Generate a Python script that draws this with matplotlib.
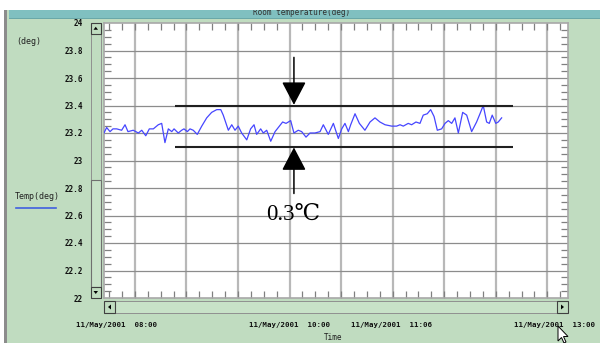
import numpy as np
import matplotlib
matplotlib.use("Agg")
import matplotlib.pyplot as plt
import matplotlib.transforms as mtransforms
from matplotlib.patches import Rectangle, Polygon
from matplotlib.ticker import FixedLocator

# Room temperature log, minutes after 08:00 on 11/May/2001
minutes = [0, 1.7, 3.9, 5.8, 8.2, 11.4, 13.6, 15.5, 18.9, 22.2, 24.4, 27.0, 29.3, 31.9,
           35.1, 37.3, 39.4, 41.6, 43.8, 45.3, 48.0, 50.2, 51.7, 53.9, 55.6, 57.7, 60.3,
           63.2, 66.4, 69.6, 72.9, 75.5, 77.1, 80.4, 82.6, 84.7, 86.8, 89.0, 92.3, 94.8,
           97.0, 98.7, 101.3, 103.0, 105.2, 107.8, 110.6, 112.7, 115.5, 117.7, 120.7,
           122.8, 125.6, 127.8, 130.6, 133.2, 136.4, 139.7, 141.8, 145.0, 148.3, 151.5,
           153.7, 155.8, 158.0, 159.5, 162.3, 165.1, 168.7, 172.0, 175.2, 178.4, 181.7,
           186.0, 189.2, 191.4, 193.5, 196.7, 198.9, 201.7, 204.3, 206.4, 209.0, 211.2,
           213.4, 215.5, 218.3, 220.5, 222.6, 224.8, 226.9, 229.1, 231.9, 234.5, 237.7,
           240.9, 243.1, 245.2, 247.4, 249.1, 251.0, 253.3, 254.9, 257.1]
temp = [23.20, 23.24, 23.21, 23.23, 23.23, 23.22, 23.26, 23.21, 23.22, 23.20, 23.22, 23.18,
        23.23, 23.23, 23.26, 23.27, 23.13, 23.23, 23.21, 23.23, 23.20, 23.22, 23.23, 23.21,
        23.23, 23.22, 23.19, 23.25, 23.31, 23.35, 23.37, 23.37, 23.33, 23.22, 23.26, 23.22,
        23.25, 23.20, 23.15, 23.23, 23.26, 23.19, 23.23, 23.20, 23.22, 23.14, 23.21, 23.24,
        23.28, 23.27, 23.29, 23.20, 23.22, 23.21, 23.17, 23.20, 23.20, 23.21, 23.26, 23.19,
        23.27, 23.16, 23.23, 23.27, 23.21, 23.26, 23.34, 23.27, 23.22, 23.28, 23.31, 23.28,
        23.26, 23.25, 23.25, 23.26, 23.25, 23.27, 23.26, 23.28, 23.27, 23.33, 23.34, 23.37,
        23.32, 23.22, 23.23, 23.27, 23.29, 23.27, 23.31, 23.20, 23.35, 23.33, 23.21, 23.28,
        23.34, 23.40, 23.28, 23.27, 23.33, 23.27, 23.28, 23.31]

y_ticks = [22.0, 22.2, 22.4, 22.6, 22.8, 23.0, 23.2, 23.4, 23.6, 23.8, 24.0]
x_label_minutes = [0, 120, 186, 300]
x_labels = ["11/May/2001  08:00", "11/May/2001  10:00",
            "11/May/2001  11:06", "11/May/2001  13:00"]

band_low, band_high = 23.1, 23.4
band_start, band_end = 45.9, 264.4
arrow_at = 122.8
band_label = "0.3\u2103"

W, H = 600, 343
BG = "#c0dcc0"
fig = plt.figure(figsize=(W / 100, H / 100), dpi=100, facecolor=BG)


def fx(x):
    return x / W


def fy(y):
    return 1 - y / H


def rect(x0, y0, x1, y1, fc, ec="none", lw=0.8, z=1):
    fig.add_artist(Rectangle((fx(x0), fy(y1)), (x1 - x0) / W, (y1 - y0) / H,
                             transform=fig.transFigure, facecolor=fc,
                             edgecolor=ec, linewidth=lw, zorder=z))


def poly(pts, fc, ec="none", lw=0.8, z=3):
    fig.add_artist(Polygon([(fx(a), fy(b)) for a, b in pts], closed=True,
                           transform=fig.transFigure, facecolor=fc,
                           edgecolor=ec, linewidth=lw, zorder=z))


# window frame
fig.text(fx(302), fy(12.5), "Room temperature(deg)", ha="center", va="center",
         fontsize=5.5, family="DejaVu Sans Mono", color="#303030", zorder=2)
rect(9, 10, 600, 18.5, "#80c0c0", z=1)
rect(9, 18, 600, 19, "#6aa8a8", z=1)
rect(0, 0, 600, 10, "white", z=3)
rect(0, 10, 4, 343, "white", z=1)
rect(4, 10, 7, 343, "#8c8c8c", z=1)

# plot area
ax = fig.add_axes([fx(104), fy(298), (568 - 104) / W, (298 - 23) / H])
ax.set_facecolor("white")
ax.set_xlim(0, 300)
ax.set_ylim(22, 24)

grid_minutes = np.arange(20, 300, 100 / 3)
for g in grid_minutes:
    ax.axvline(g, color="#b8b8b8", lw=1.6, zorder=1)
for v in y_ticks[1:-1]:
    ax.axhline(v, color="#8c8c8c", lw=0.9, zorder=1)

for s in ax.spines.values():
    s.set_color("#a8a8a8")
    s.set_linewidth(1.2)

ax.plot(minutes, temp, color="#4646ff", lw=0.9, zorder=3)

# band markers
ax.hlines([band_high, band_low], band_start, band_end, color="#202020", lw=1.5, zorder=4)
ap = dict(arrowstyle="-|>,head_length=0.4,head_width=0.21", color="black",
          lw=1.1, shrinkA=0, shrinkB=0, mutation_scale=36)
ax.annotate("", xy=(arrow_at, band_high + 0.005), xytext=(arrow_at, 23.75),
            arrowprops=ap, zorder=5)
ax.annotate("", xy=(arrow_at, band_low - 0.005), xytext=(arrow_at, 22.76),
            arrowprops=ap, zorder=5)
ax.text(arrow_at - 0.5, 22.61, band_label, ha="center", va="center", fontsize=16.5,
        family=["Liberation Serif", "DejaVu Serif", "Noto Sans CJK JP"], color="black",
        zorder=5)

# ticks
ax.yaxis.set_major_locator(FixedLocator(y_ticks))
ax.set_yticklabels(["%g" % v for v in y_ticks])
ax.yaxis.set_minor_locator(FixedLocator(np.arange(22, 24.001, 0.05)))
ax.tick_params(axis="y", which="major", length=0, pad=15)
ax.tick_params(axis="y", which="minor", direction="in", length=5, width=0.9,
               color="#808080", left=True, right=True)
for lab in ax.get_yticklabels():
    lab.set_family("DejaVu Sans Mono")
    lab.set_fontweight("bold")
    lab.set_fontsize(5.5)
    lab.set_color("#101010")

ax.xaxis.set_major_locator(FixedLocator(x_label_minutes))
ax.set_xticklabels(x_labels)
ax.xaxis.set_minor_locator(FixedLocator(np.arange(20 - 50 / 3, 300, 25 / 3)))
ax.tick_params(axis="x", which="major", length=0, pad=17)
ax.tick_params(axis="x", which="minor", direction="in", length=5, width=0.9,
               color="#808080", bottom=True, top=True)
xlabs = ax.get_xticklabels()
for lab in xlabs:
    lab.set_family("DejaVu Sans Mono")
    lab.set_fontweight("bold")
    lab.set_fontsize(5.3)
    lab.set_color("#101010")
xlabs[0].set_transform(xlabs[0].get_transform() +
                       mtransforms.ScaledTranslation(13 / 100, 0, fig.dpi_scale_trans))
xlabs[-1].set_transform(xlabs[-1].get_transform() +
                        mtransforms.ScaledTranslation(-13 / 100, 0, fig.dpi_scale_trans))

fig.text(fx(333), fy(338), "Time", ha="center", va="center", fontsize=5.5,
         family="DejaVu Sans Mono", color="#202020")
fig.text(fx(16), fy(42), "(deg)", ha="left", va="center", fontsize=6,
         family="DejaVu Sans Mono", color="#202020")
fig.text(fx(15), fy(197), "Temp(deg)", ha="left", va="center", fontsize=6,
         family="DejaVu Sans Mono", color="#202020")
fig.add_artist(plt.Line2D([fx(16), fx(56)], [fy(208), fy(208)], color="#4060e0",
                          lw=1.2, transform=fig.transFigure))

# vertical scrollbar
rect(90.5, 23, 101, 298, BG, ec="#909090", lw=0.7)
rect(90.5, 180, 101, 287, "#c8e2c8", ec="#707070", lw=0.8, z=2)
for y0, y1, up in [(23, 33.5, True), (287, 298, False)]:
    rect(90.5, y0, 101, y1, BG, ec="#404040", lw=0.8, z=2)
    cy = (y0 + y1) / 2
    if up:
        poly([(93.5, cy + 1.5), (98, cy + 1.5), (95.75, cy - 1.5)], "black")
    else:
        poly([(93.5, cy - 1.5), (98, cy - 1.5), (95.75, cy + 1.5)], "black")

# horizontal scrollbar
rect(104, 301, 568, 313, "#c8e2c8", ec="#909090", lw=0.7)
for x0, x1, left in [(104, 115, True), (557, 568, False)]:
    rect(x0, 301, x1, 313, BG, ec="#404040", lw=0.8, z=2)
    cx = (x0 + x1) / 2
    if left:
        poly([(cx + 1.5, 304.5), (cx + 1.5, 309.5), (cx - 1.5, 307)], "black")
    else:
        poly([(cx - 1.5, 304.5), (cx - 1.5, 309.5), (cx + 1.5, 307)], "black")

# mouse pointer
tip = (558, 326)
pointer = [(0, 0), (0, 15), (3.5, 11.5), (6, 17), (8, 16), (5.5, 10.5), (10, 10.5)]
poly([(tip[0] + a, tip[1] + b) for a, b in pointer], "white", ec="black", lw=0.7, z=4)

fig.savefig("out.png", dpi=100, facecolor=BG)
